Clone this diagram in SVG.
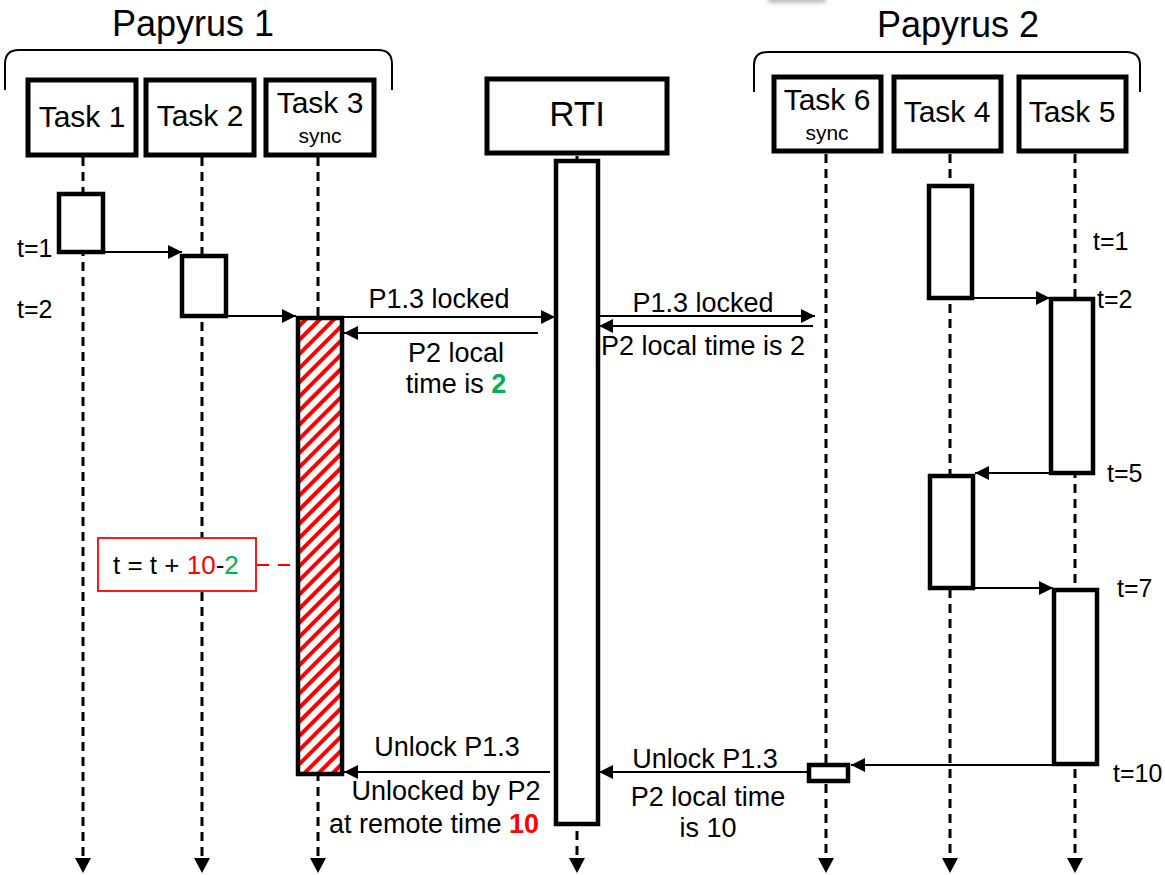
<svg xmlns="http://www.w3.org/2000/svg" width="1165" height="875" viewBox="0 0 1165 875">
  <style>
    text { font-family: "Liberation Sans", Arial, sans-serif; fill: #000; }
    .grp { font-size: 36px; text-anchor: middle; }
    .task { font-size: 30px; text-anchor: middle; }
    .rti { font-size: 35px; text-anchor: middle; }
    .sub { font-size: 21px; text-anchor: middle; }
    .msg { font-size: 27px; text-anchor: middle; }
    .tl { font-size: 25px; }
    .head { fill: #fff; stroke: #000; stroke-width: 5; }
    .act { fill: #fff; stroke: #000; stroke-width: 4.5; }
    .life { stroke: #000; stroke-width: 3; stroke-dasharray: 9 6; fill: none; }
    .brace { fill: none; stroke: #000; stroke-width: 2; }
    .conn { stroke: #000; stroke-width: 2; fill: none; marker-end: url(#arrow); }
    .end { stroke: none; fill: #000; }
    .green { fill: #00B050; }
    .red { fill: #FF0000; }
  </style>
  <defs>
    <marker id="arrow" viewBox="0 0 10 10" refX="10" refY="5" markerWidth="8" markerHeight="7" markerUnits="strokeWidth" orient="auto">
      <path d="M0,0 L10,5 L0,10 z" fill="#000"/>
    </marker>
    <pattern id="hatch" width="10" height="10" patternUnits="userSpaceOnUse" patternTransform="rotate(45)">
      <rect width="10" height="10" fill="#fff"/>
      <rect width="4" height="10" fill="#FF0000"/>
    </pattern>
    <filter id="soft" x="-20%" y="-100%" width="140%" height="300%">
      <feGaussianBlur stdDeviation="2"/>
    </filter>
  </defs>

  <rect x="768" y="-8" width="58" height="11" rx="3" fill="#bdbdbd" filter="url(#soft)"/>

  <!-- group labels and braces -->
  <g id="papyrus1">
    <text class="grp" x="193" y="36">Papyrus 1</text>
    <path class="brace" d="M5,90 L5,64 Q5,50 19,50 L378,50 Q392,50 392,64 L392,90"/>
  </g>
  <g id="papyrus2">
    <text class="grp" x="958" y="37">Papyrus 2</text>
    <path class="brace" d="M754,92 L754,65 Q754,52 768,52 L1126,52 Q1140,52 1140,65 L1140,92"/>
  </g>

  <!-- lifelines -->
  <g id="lifelines">
    <line class="life" x1="83" y1="157" x2="83" y2="860"/>
    <line class="life" x1="202" y1="157" x2="202" y2="860"/>
    <line class="life" x1="318" y1="157" x2="318" y2="860"/>
    <line class="life" x1="577" y1="156" x2="577" y2="860"/>
    <line class="life" x1="826" y1="154" x2="826" y2="860"/>
    <line class="life" x1="950" y1="154" x2="950" y2="860"/>
    <line class="life" x1="1075" y1="154" x2="1075" y2="860"/>
    <path class="end" d="M75,858 L91,858 L83,873 z"/>
    <path class="end" d="M194,858 L210,858 L202,873 z"/>
    <path class="end" d="M310,858 L326,858 L318,873 z"/>
    <path class="end" d="M569,858 L585,858 L577,873 z"/>
    <path class="end" d="M818,858 L834,858 L826,873 z"/>
    <path class="end" d="M942,858 L958,858 L950,873 z"/>
    <path class="end" d="M1067,858 L1083,858 L1075,873 z"/>
  </g>

  <!-- lifeline heads -->
  <g id="task1">
    <rect class="head" x="28" y="80" width="108" height="75"/>
    <text class="task" x="82" y="127">Task 1</text>
  </g>
  <g id="task2">
    <rect class="head" x="146" y="80" width="108" height="75"/>
    <text class="task" x="200" y="126">Task 2</text>
  </g>
  <g id="task3">
    <rect class="head" x="266" y="80" width="108" height="75"/>
    <text class="task" x="320" y="113">Task 3</text>
    <text class="sub" x="320" y="143">sync</text>
  </g>
  <g id="rti">
    <rect class="head" x="487" y="79" width="180" height="74"/>
    <text class="rti" x="577" y="126">RTI</text>
  </g>
  <g id="task6">
    <rect class="head" x="774" y="77" width="107" height="74"/>
    <text class="task" x="827" y="110">Task 6</text>
    <text class="sub" x="827" y="140">sync</text>
  </g>
  <g id="task4">
    <rect class="head" x="894" y="77" width="107" height="74"/>
    <text class="task" x="947" y="122">Task 4</text>
  </g>
  <g id="task5">
    <rect class="head" x="1019" y="77" width="107" height="74"/>
    <text class="task" x="1072" y="122">Task 5</text>
  </g>

  <!-- activations -->
  <g id="act-task1"><rect class="act" x="59" y="194" width="44" height="58"/></g>
  <g id="act-task2"><rect class="act" x="182" y="256" width="44" height="60"/></g>
  <g id="act-task3"><rect x="298" y="318" width="44" height="456" fill="url(#hatch)" stroke="#000" stroke-width="4.5"/></g>
  <g id="act-rti"><rect class="act" x="556" y="161" width="42" height="663"/></g>
  <g id="act-task4a"><rect class="act" x="929" y="186" width="43" height="112"/></g>
  <g id="act-task5a"><rect class="act" x="1051" y="299" width="42" height="174"/></g>
  <g id="act-task4b"><rect class="act" x="930" y="476" width="43" height="112"/></g>
  <g id="act-task5b"><rect class="act" x="1054" y="590" width="43" height="174"/></g>
  <g id="act-task6"><rect class="act" x="809" y="765" width="39" height="16"/></g>

  <!-- messages -->
  <g id="connectors">
    <line class="conn" x1="103" y1="252" x2="182" y2="252"/>
    <line class="conn" x1="226" y1="316" x2="296" y2="316"/>
    <line class="conn" x1="342" y1="317" x2="555" y2="317"/>
    <line class="conn" x1="538" y1="333" x2="344" y2="333"/>
    <line class="conn" x1="598" y1="316" x2="815" y2="316"/>
    <line class="conn" x1="813" y1="326" x2="599" y2="326"/>
    <line class="conn" x1="972" y1="298" x2="1050" y2="298"/>
    <line class="conn" x1="1051" y1="473" x2="975" y2="473"/>
    <line class="conn" x1="973" y1="588" x2="1053" y2="588"/>
    <line class="conn" x1="1054" y1="765" x2="851" y2="765"/>
    <line class="conn" x1="808" y1="772" x2="599" y2="772"/>
    <line class="conn" x1="550" y1="772" x2="344" y2="772"/>
    <line x1="257" y1="565" x2="297" y2="565" stroke="#FF0000" stroke-width="1.8" stroke-dasharray="12 9"/>
  </g>

  <!-- labels -->
  <g id="labels">
    <text class="msg" x="439" y="308">P1.3 locked</text>
    <text class="msg" x="456" y="362">P2 local</text>
    <text class="msg" x="456" y="393">time is <tspan class="green" font-weight="bold">2</tspan></text>
    <text class="msg" x="703" y="312">P1.3 locked</text>
    <text class="msg" x="703" y="355" font-size="24">P2 local time is 2</text>
    <text class="msg" x="705" y="768">Unlock P1.3</text>
    <text class="msg" x="708" y="806">P2 local time</text>
    <text class="msg" x="708" y="837">is 10</text>
    <text class="msg" x="447" y="756">Unlock P1.3</text>
    <text class="msg" x="446" y="800">Unlocked by P2</text>
    <text class="msg" x="434" y="833">at remote time <tspan class="red" font-weight="bold">10</tspan></text>

    <text class="tl" x="17" y="257">t=1</text>
    <text class="tl" x="17" y="318">t=2</text>
    <text class="tl" x="1093" y="250">t=1</text>
    <text class="tl" x="1097" y="308">t=2</text>
    <text class="tl" x="1107" y="482">t=5</text>
    <text class="tl" x="1117" y="597">t=7</text>
    <text class="tl" x="1113" y="782">t=10</text>
  </g>

  <g id="offset-note">
    <rect x="98" y="538" width="158" height="53" fill="#fff" stroke="#FF0000" stroke-width="1.8"/>
    <text x="113" y="574" font-size="26">t = t + <tspan class="red">10</tspan>-<tspan class="green">2</tspan></text>
  </g>
</svg>
